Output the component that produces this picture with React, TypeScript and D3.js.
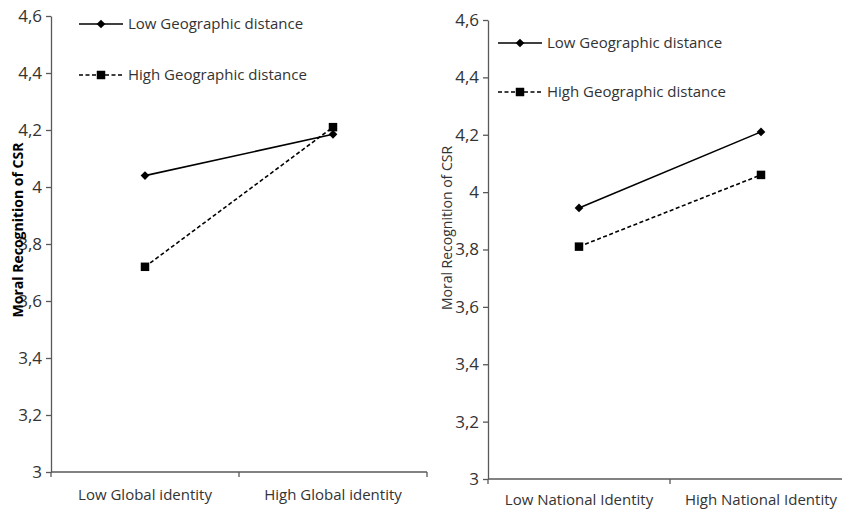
import * as d3 from 'd3';
import React, { useRef, useEffect } from 'react';

const W = 842;
const H = 511;

const seriesNames = ['Low Geographic distance', 'High Geographic distance'];
const yTicks = [3, 3.2, 3.4, 3.6, 3.8, 4, 4.2, 4.4, 4.6];

const globalCategories = ['Low Global identity', 'High Global identity'];
const globalLowDist = [4.04, 4.185];
const globalHighDist = [3.72, 4.21];

const nationalCategories = ['Low National Identity', 'High National Identity'];
const nationalLowDist = [3.945, 4.21];
const nationalHighDist = [3.81, 4.06];

const FONT = '"Open Sans", sans-serif';
const AXIS = '#595959';
const TEXT = '#333';

const panels = [
  {
    cats: globalCategories,
    low: globalLowDist,
    high: globalHighDist,
    x0: 51, x1: 427, yTop: 16, yBottom: 472,
    labelX: 18, labelY: 230, bold: true,
    legendX: 79, legendY: [24, 75],
    catY: 495,
  },
  {
    cats: nationalCategories,
    low: nationalLowDist,
    high: nationalHighDist,
    x0: 488, x1: 852, yTop: 20, yBottom: 479,
    labelX: 447, labelY: 228, bold: false,
    legendX: 498, legendY: [43, 92],
    catY: 500,
  },
];

const fmt = (d: number) => String(+d.toFixed(1)).replace('.', ',');

const App = () => {
  const containerRef = useRef<HTMLDivElement>(null);

  useEffect(() => {
    document.body.style.margin = '0';
    if (!containerRef.current) return;
    d3.select(containerRef.current).selectAll('*').remove();

    const svg = d3
      .select(containerRef.current)
      .append('svg')
      .attr('width', W)
      .attr('height', H)
      .style('display', 'block')
      .style('background', '#fff')
      .style('font-family', FONT);

    panels.forEach((p) => {
      const x = d3.scaleBand<string>().domain(p.cats).range([p.x0, p.x1]).padding(0);
      const y = d3.scaleLinear().domain([3, 4.6]).range([p.yBottom, p.yTop]);
      const g = svg.append('g');

      // y axis
      const yAxis = d3
        .axisLeft(y)
        .tickValues(yTicks)
        .tickSize(5)
        .tickSizeOuter(0)
        .tickFormat((d) => fmt(+d));
      const ya = g.append('g').attr('transform', `translate(${p.x0},0)`).call(yAxis);
      ya.selectAll('path,line').attr('stroke', AXIS).attr('stroke-width', 1.3);
      ya.selectAll('text')
        .attr('fill', TEXT)
        .attr('font-size', 17)
        .attr('font-family', FONT)
        .attr('x', -9);

      // x axis
      g.append('line')
        .attr('x1', p.x0).attr('x2', p.x1)
        .attr('y1', p.yBottom).attr('y2', p.yBottom)
        .attr('stroke', AXIS).attr('stroke-width', 1.3);
      const bounds = [p.x0, ...p.cats.map((c) => (x(c) as number) + x.bandwidth())];
      g.selectAll('line.xt')
        .data(bounds)
        .join('line')
        .attr('class', 'xt')
        .attr('x1', (d) => d).attr('x2', (d) => d)
        .attr('y1', p.yBottom).attr('y2', p.yBottom + 5)
        .attr('stroke', AXIS).attr('stroke-width', 1.3);
      g.selectAll('text.cat')
        .data(p.cats)
        .join('text')
        .attr('class', 'cat')
        .attr('x', (d) => (x(d) as number) + x.bandwidth() / 2)
        .attr('y', p.catY)
        .attr('dy', '0.35em')
        .attr('text-anchor', 'middle')
        .attr('font-size', 15)
        .attr('fill', TEXT)
        .text((d) => d);

      // y label
      g.append('text')
        .attr('transform', `translate(${p.labelX},${p.labelY}) rotate(-90)`)
        .attr('text-anchor', 'middle')
        .attr('dy', '0.35em')
        .attr('font-size', 14)
        .attr('font-weight', p.bold ? 'bold' : 'normal')
        .attr('fill', p.bold ? '#000' : TEXT)
        .text('Moral Recognition of CSR');

      const cx = (i: number) => (x(p.cats[i]) as number) + x.bandwidth() / 2;
      const line = d3
        .line<number>()
        .x((_, i) => cx(i))
        .y((d) => y(d));

      g.append('path')
        .attr('d', line(p.low))
        .attr('fill', 'none')
        .attr('stroke', '#000')
        .attr('stroke-width', 1.6);
      g.append('path')
        .attr('d', line(p.high))
        .attr('fill', 'none')
        .attr('stroke', '#000')
        .attr('stroke-width', 1.6)
        .attr('stroke-dasharray', '4,2.5');

      const diamond = d3.symbol(d3.symbolSquare, 38);
      const square = d3.symbol(d3.symbolSquare, 72);
      g.selectAll('path.dm')
        .data(p.low)
        .join('path')
        .attr('class', 'dm')
        .attr('d', diamond())
        .attr('transform', (d, i) => `translate(${cx(i)},${y(d)}) rotate(45)`)
        .attr('fill', '#000');
      g.selectAll('path.sq')
        .data(p.high)
        .join('path')
        .attr('class', 'sq')
        .attr('d', square())
        .attr('transform', (d, i) => `translate(${cx(i)},${y(d)})`)
        .attr('fill', '#000');

      // legend
      seriesNames.forEach((name, i) => {
        const ly = p.legendY[i];
        const lg = g.append('g');
        lg.append('line')
          .attr('x1', p.legendX).attr('x2', p.legendX + 44)
          .attr('y1', ly).attr('y2', ly)
          .attr('stroke', '#000').attr('stroke-width', 1.6)
          .attr('stroke-dasharray', i === 0 ? null : '4,2.5');
        lg.append('path')
          .attr('d', (i === 0 ? diamond : square)())
          .attr('transform', `translate(${p.legendX + 22},${ly})${i === 0 ? ' rotate(45)' : ''}`)
          .attr('fill', '#000');
        lg.append('text')
          .attr('x', p.legendX + 49)
          .attr('y', ly)
          .attr('dy', '0.35em')
          .attr('font-size', 15)
          .attr('fill', TEXT)
          .text(name);
      });
    });
  }, []);

  return <div ref={containerRef}></div>;
};

export default App;
